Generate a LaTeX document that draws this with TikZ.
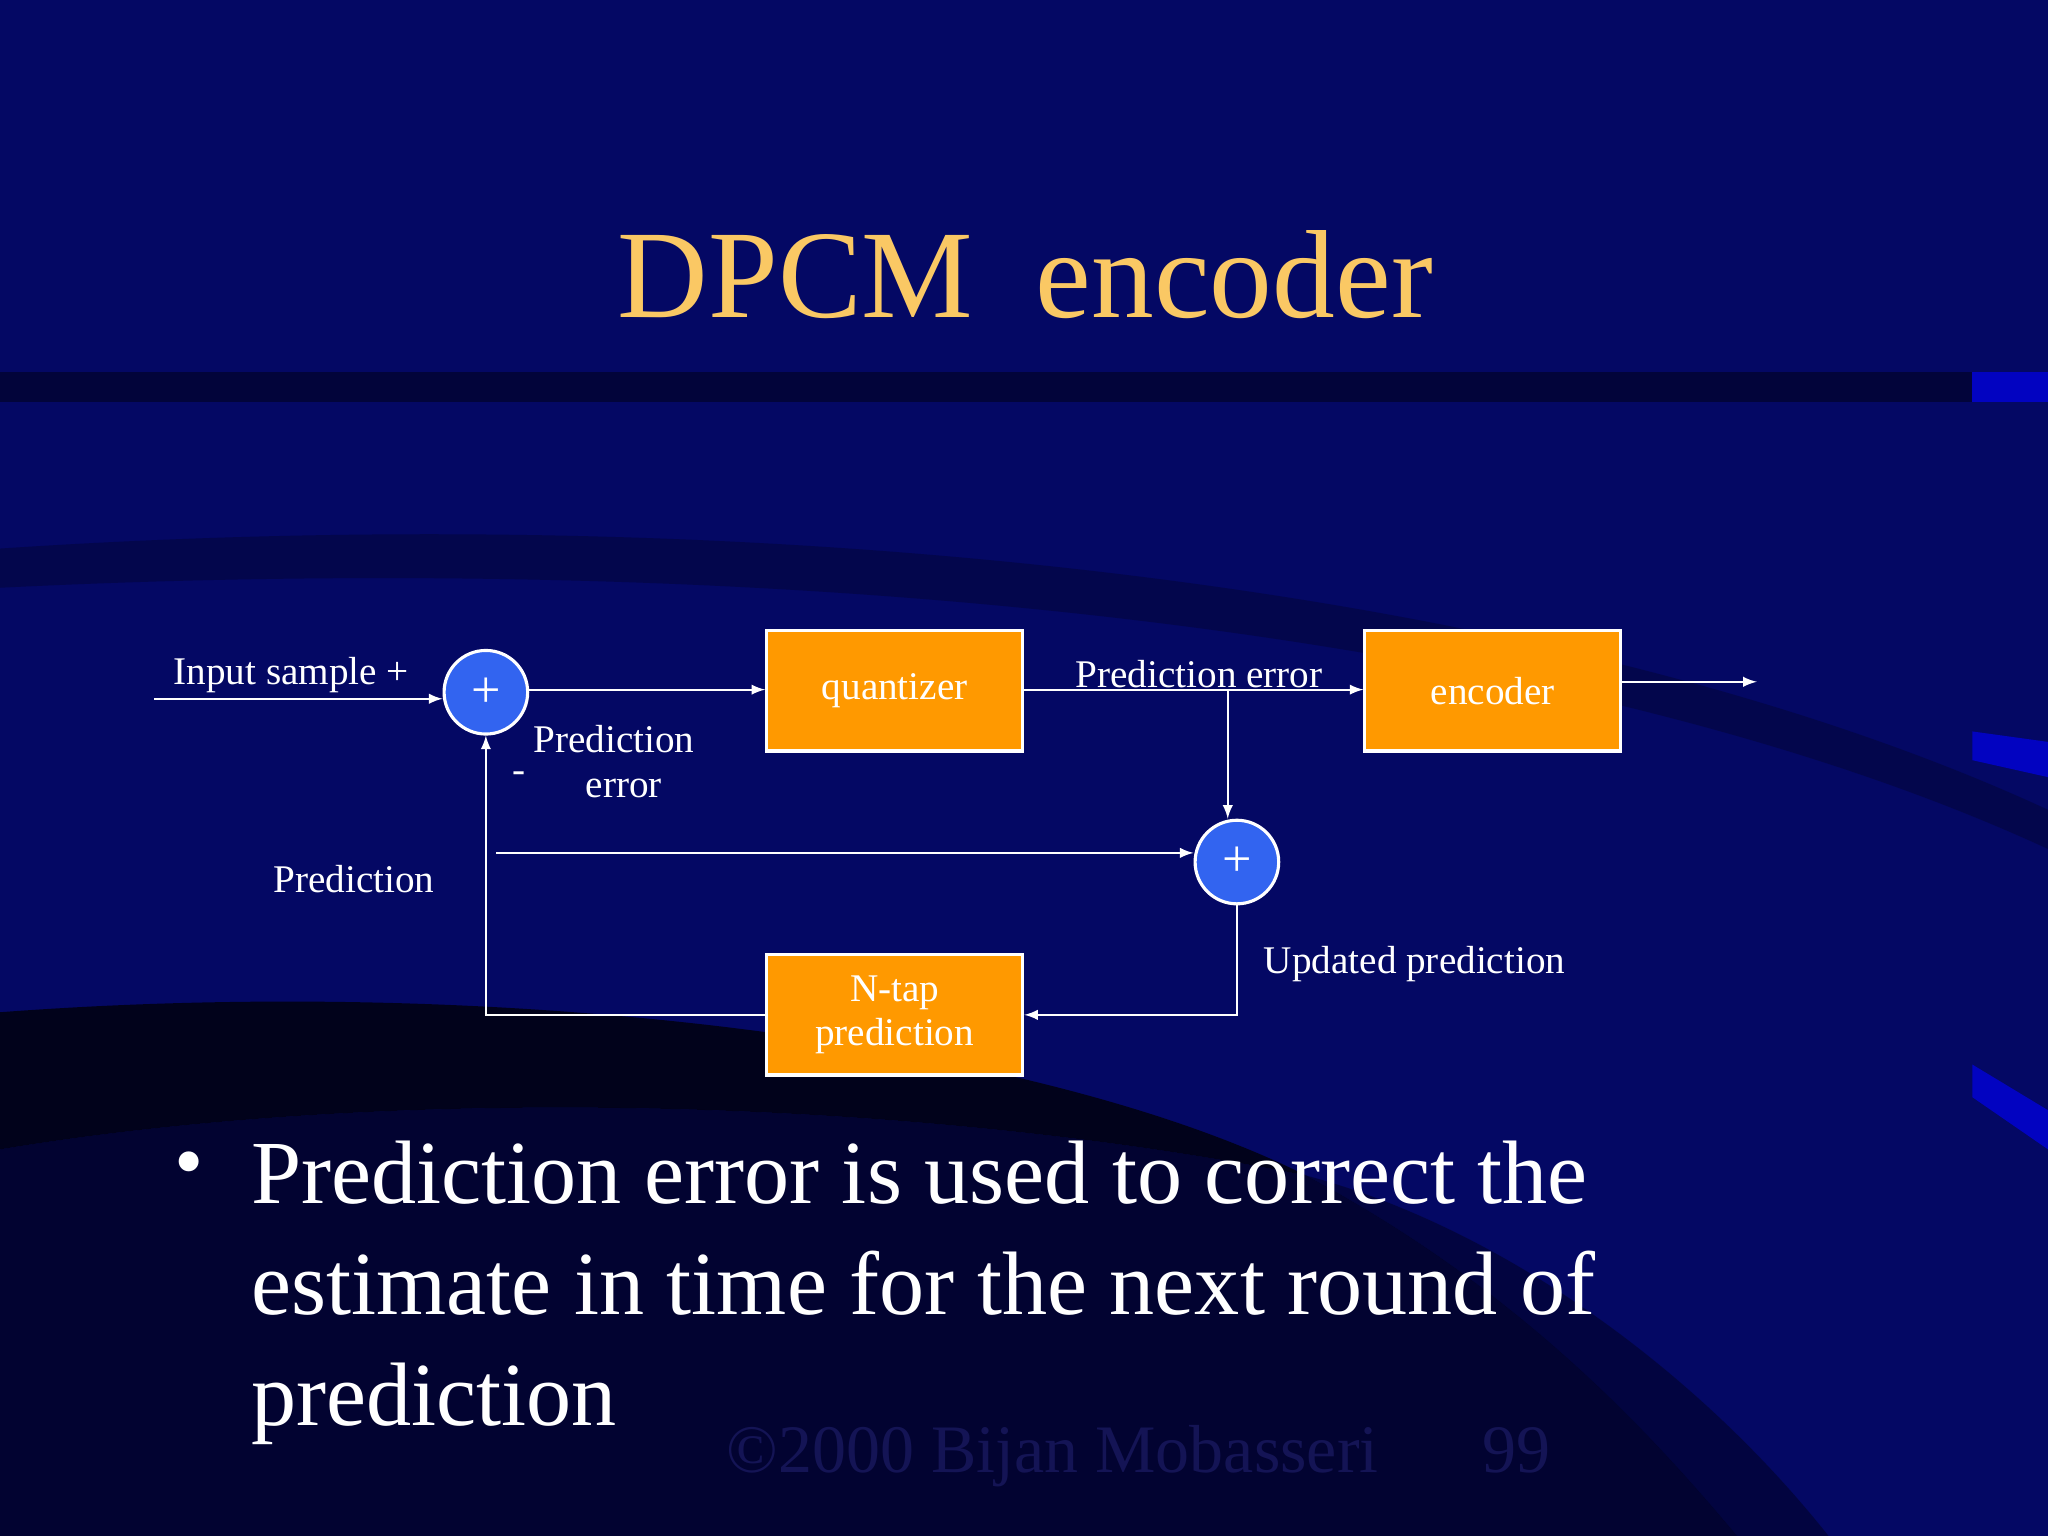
\documentclass[tikz,border=0pt]{standalone}
\usepackage{fontspec}
\setmainfont{Liberation Serif}
\begin{document}
\begin{tikzpicture}[x=0.5pt,y=-0.5pt,
  box/.style={draw=white,line width=1.2pt,fill=orangeb,minimum width=98pt,minimum height=46pt,inner sep=0pt,text=white,font=\fontsize{15}{17}\selectfont,align=center},
  sum/.style={circle,draw=white,line width=1.2pt,fill=sumblue,minimum size=32pt,inner sep=0pt,text=white,font=\fontsize{20}{20}\selectfont},
  wire/.style={white,line width=0.8pt},
  arr/.style={wire,-latex},
  lbl/.style={text=white,font=\fontsize{15}{17}\selectfont,inner sep=0pt}]
\definecolor{navy}{RGB}{4,8,100}
\definecolor{orangeb}{RGB}{255,153,0}
\definecolor{sumblue}{RGB}{50,100,240}
\definecolor{titlec}{RGB}{250,200,100}
\definecolor{footc}{RGB}{20,20,85}
\useasboundingbox (0,0) rectangle (1568,1176);
\fill[navy] (0,0) rectangle (1568,1176);
\fill[black!70!navy,opacity=0.6] (0,285) rectangle (1510,308);
\fill[black!60!navy,opacity=0.4] (0,420) .. controls (600,380) and (1200,450) .. (1568,620) -- (1568,650) .. controls (1200,480) and (600,420) .. (0,450) -- cycle;
\fill[black!85!navy,opacity=0.85] (0,775) .. controls (400,745) and (800,800) .. (1000,900) .. controls (700,840) and (300,830) .. (0,880) -- cycle;
\fill[black!85!navy,opacity=0.6] (0,880) .. controls (300,830) and (700,840) .. (1000,900) .. controls (1150,980) and (1250,1080) .. (1330,1176) -- (0,1176) -- cycle;
\fill[black!70!navy,opacity=0.5] (1000,900) .. controls (1150,980) and (1250,1080) .. (1330,1176) -- (1400,1176) .. controls (1300,1050) and (1150,940) .. (1000,900) -- cycle;
\fill[blue!60!navy] (1510,285) rectangle (1568,308);
\fill[blue!60!navy] (1510,560) -- (1568,568) -- (1568,595) -- (1510,582) -- cycle;
\fill[blue!60!navy] (1510,815) -- (1568,850) -- (1568,880) -- (1510,840) -- cycle;
\node[text=titlec,font=\fontsize{48}{48}\selectfont] (title) at (785,210) {DPCM\ \ encoder};
\node[box] (q) at (685,529) {quantizer};
\node[box] (e) at (1143,529) {encoder};
\node[box] (n) at (685,777) {N-tap\\prediction};
\node[sum] (s1) at (372,530) {+};
\node[sum] (s2) at (947,660) {+};
\coordinate (in) at (118,535);
\coordinate (out) at (1345,522);
\coordinate (br) at (940,528);
\coordinate (pl) at (380,653);
\draw[arr] (in) -- (s1.west |- in);
\draw[arr] (s1.east |- 0,528) -- (q.west |- 0,528);
\draw[arr] (q.east |- 0,528) -- (e.west |- 0,528);
\draw[arr] (br) -- (br |- s2.north);
\draw[arr] (e.east |- out) -- (out);
\draw[arr] (pl) -- (s2.west |- pl);
\draw[arr] (s2.south) |- (n.east);
\draw[arr] (n.west) -| (s1.south);
\node[lbl] (l1) at (223,517) {Input sample +};
\node[lbl] (l2) at (918,516) {Prediction error};
\node[lbl,align=center] (l3) at (470,583) {Prediction\\\ \ error};
\node[lbl] (l4) at (397,595) {-};
\node[lbl] (l5) at (271,673) {Prediction};
\node[lbl] (l6) at (1083,738) {Updated prediction};
\node[text=white,font=\fontsize{34.5}{42.5}\selectfont,anchor=north west,align=left,inner sep=0pt] (b) at (192,873) {Prediction error is used to correct the\\estimate in time for the next round of\\prediction};
\node[text=white,font=\fontsize{32}{32}\selectfont] (dot) at (145,896) {•};
\node[text=footc,font=\fontsize{26}{26}\selectfont] (f) at (872,1115) {©2000 Bijan Mobasseri\hspace{40pt}99};
\end{tikzpicture}
\end{document}
